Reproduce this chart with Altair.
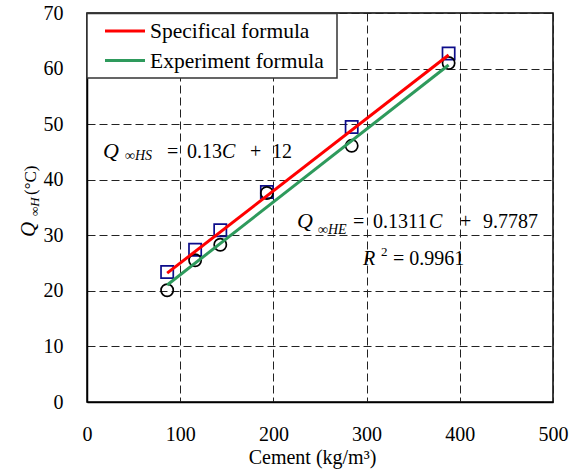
import altair as alt
import pandas as pd

# ---- data ----
cement = [86, 116, 143, 193, 284, 388]
q_spec = [23.4, 27.4, 30.9, 37.8, 49.5, 62.7]   # squares (Specifical)
q_exp = [20.1, 25.5, 28.3, 37.6, 46.1, 61.0]    # circles (Experiment)

fit_x = [86, 388]
fit_spec = [0.13 * v + 12 for v in fit_x]          # Q_HS = 0.13C + 12
fit_exp = [0.1311 * v + 9.7787 for v in fit_x]    # Q_HE = 0.1311C + 9.7787

x_ticks = [0, 100, 200, 300, 400, 500]
y_ticks = [0, 10, 20, 30, 40, 50, 60, 70]

FONT = "Liberation Serif"
RED = "#FF0000"
GREEN = "#2E9A5C"
NAVY = "#0C0C8A"

pts = pd.DataFrame({"C": cement, "spec": q_spec, "exp": q_exp})
fits = pd.DataFrame({"C": fit_x, "spec": fit_spec, "exp": fit_exp})

xs = alt.Scale(domain=[0, 500], nice=False, zero=False)
ys = alt.Scale(domain=[0, 70], nice=False, zero=False)

x_axis = alt.Axis(values=x_ticks, title="Cement (kg/m³)", grid=True, tickSize=0,
                  labelFont=FONT, labelFontSize=20, labelColor="black", labelPadding=22,
                  titleFont=FONT, titleFontSize=20, titleFontWeight="normal",
                  titleColor="black", titlePadding=3, titleX=225,
                  gridDash=[8, 4], gridColor="#222222", gridWidth=1,
                  domainColor="black", domainWidth=1.5, labelFlush=False)
y_axis = alt.Axis(values=y_ticks, title=None, grid=True, tickSize=0,
                  labelFont=FONT, labelFontSize=20, labelColor="black", labelPadding=24,
                  gridDash=[8, 4], gridColor="#222222", gridWidth=1,
                  domainColor="black", domainWidth=1.5, labelFlush=False)

base = alt.Chart(pts)

squares = base.mark_point(shape="square", filled=False, size=150, strokeWidth=1.7,
                          color=NAVY, opacity=1).encode(
    x=alt.X("C:Q", scale=xs, axis=x_axis),
    y=alt.Y("spec:Q", scale=ys, axis=y_axis),
)
circles = base.mark_point(shape="circle", filled=False, size=150, strokeWidth=1.7,
                          color="black", opacity=1).encode(
    x=alt.X("C:Q", scale=xs),
    y=alt.Y("exp:Q", scale=ys),
)
line_spec = alt.Chart(fits).mark_line(color=RED, strokeWidth=3).encode(
    x=alt.X("C:Q", scale=xs), y=alt.Y("spec:Q", scale=ys))
line_exp = alt.Chart(fits).mark_line(color=GREEN, strokeWidth=3).encode(
    x=alt.X("C:Q", scale=xs), y=alt.Y("exp:Q", scale=ys))

one = pd.DataFrame({"a": [0]})


def txt(s, x, y, size=20, italic=False, baseline="alphabetic", angle=0):
    kw = dict(font=FONT, fontSize=size, color="black", align="left", baseline=baseline)
    if italic:
        kw["fontStyle"] = "italic"
    if angle:
        kw["angle"] = angle
    return alt.Chart(one).mark_text(**kw).encode(
        x=alt.value(x), y=alt.value(y), text=alt.value(s))


# legend
leg_box = alt.Chart(one).mark_rect(fill="white", stroke="#333333", strokeWidth=1.5).encode(
    x=alt.value(0), x2=alt.value(250), y=alt.value(0.5), y2=alt.value(65))
leg_red = alt.Chart(one).mark_rule(color=RED, strokeWidth=3).encode(
    x=alt.value(18), x2=alt.value(58), y=alt.value(18))
leg_green = alt.Chart(one).mark_rule(color=GREEN, strokeWidth=3).encode(
    x=alt.value(18), x2=alt.value(58), y=alt.value(47.5))
leg_t1 = txt("Specifical formula", 63, 19, size=21.5, baseline="middle")
leg_t2 = txt("Experiment formula", 63, 48.5, size=21.5, baseline="middle")

# equation annotations
eq1 = [
    txt("Q", 16, 145, size=22, italic=True),
    txt("∞HS", 38, 147, size=14, italic=True),
    txt("=", 80, 145),
    txt("0.13", 100, 145),
    txt("C", 135, 145, italic=True),
    txt("+", 163, 145),
    txt("12", 185, 145),
]
eq2 = [
    txt("Q", 210, 215, size=22, italic=True),
    txt("∞HE", 231, 221, size=14, italic=True),
    txt("=", 266, 215),
    txt("0.1311", 286, 215),
    txt("C", 342, 215, italic=True),
    txt("+", 373, 215),
    txt("9.7787", 396, 215),
    txt("R", 276, 252, italic=True),
    txt("2", 294, 243, size=13),
    txt("= 0.9961", 306, 252),
]

# y-axis title (rotated pieces)
ytitle = [
    txt("Q", -52, 224, size=21, italic=True, angle=270),
    txt("∞H", -48, 203, size=13, italic=True, angle=270),
    txt("(°C)", -51, 182, size=17, angle=270),
]

chart = alt.layer(
    squares, circles, line_exp, line_spec,
    leg_box, leg_red, leg_green, leg_t1, leg_t2,
    *eq1, *eq2, *ytitle,
).properties(
    width=466, height=389,
    autosize=alt.AutoSizeParams(type="none"),
    padding={"left": 87, "top": 13, "right": 22, "bottom": 73},
    background="white",
).configure_view(
    stroke="black", strokeWidth=1.5,
)

chart.save("out.html", embed_options={"renderer": "svg", "actions": False})
